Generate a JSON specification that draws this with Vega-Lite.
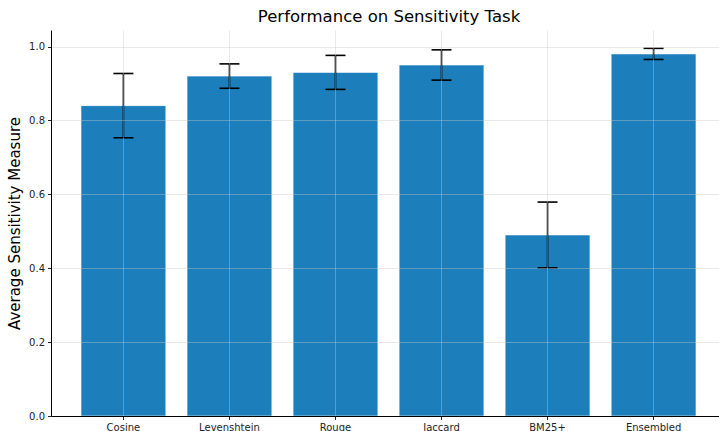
{
  "$schema": "https://vega.github.io/schema/vega-lite/v6.json",
  "autosize": "none",
  "width": 668,
  "height": 386,
  "padding": {"left": 51, "top": 30, "right": 0, "bottom": 15},
  "background": "white",
  "config": {
    "font": "DejaVu Sans",
    "view": {"stroke": null}
  },
  "title": {"text": "Performance on Sensitivity Task", "fontSize": 16.5, "fontWeight": "normal", "font": "DejaVu Sans", "color": "#000000", "offset": 5, "dx": 4},
  "data": {
    "values": [
      {"method": "Cosine", "score": 0.84, "err": 0.087},
      {"method": "Levenshtein", "score": 0.92, "err": 0.033},
      {"method": "Rouge", "score": 0.93, "err": 0.046},
      {"method": "Jaccard", "score": 0.95, "err": 0.041},
      {"method": "BM25+", "score": 0.49, "err": 0.089},
      {"method": "Ensembled", "score": 0.98, "err": 0.015}
    ]
  },
  "transform": [
    {"calculate": "datum.score - datum.err", "as": "lo"},
    {"calculate": "datum.score + datum.err", "as": "hi"}
  ],
  "encoding": {
    "x": {
      "field": "method", "type": "nominal", "sort": null,
      "scale": {"paddingInner": 0.2, "paddingOuter": 0.25, "align": 0.566},
      "axis": {
        "title": null, "labelAngle": 0, "labelFontSize": 10, "labelColor": "#222",
        "domainColor": "#000", "domainWidth": 1, "tickColor": "#222", "tickSize": 3.5,
        "labelPadding": 3,
        "grid": true, "gridColor": "#c8c8c8", "gridOpacity": 0.4, "gridWidth": 1, "zindex": 1
      }
    }
  },
  "layer": [
    {
      "mark": {"type": "bar", "color": "#1c7fbb", "stroke": "#ffffff", "strokeOpacity": 0.6, "strokeWidth": 1},
      "encoding": {
        "y": {
          "field": "score", "type": "quantitative",
          "scale": {"domain": [0, 1.0447], "nice": false, "zero": true},
          "axis": {
            "title": "Average Sensitivity Measure", "titleFontSize": 15, "titleFontWeight": "normal", "titleColor": "#000",
            "titlePadding": 6,
            "values": [0, 0.2, 0.4, 0.6, 0.8, 1.0], "format": ".1f",
            "labelFontSize": 10, "labelColor": "#222", "labelPadding": 3,
            "domainColor": "#000", "domainWidth": 1, "tickColor": "#222", "tickSize": 3.5,
            "grid": true, "gridColor": "#c8c8c8", "gridOpacity": 0.4, "gridWidth": 1, "zindex": 1
          }
        }
      }
    },
    {
      "mark": {"type": "rule", "color": "#000", "strokeWidth": 1.6, "opacity": 1},
      "encoding": {
        "y": {"field": "lo", "type": "quantitative"},
        "y2": {"field": "hi"}
      }
    },
    {
      "mark": {"type": "tick", "color": "#000", "thickness": 1.6, "size": 20, "orient": "horizontal", "opacity": 1},
      "encoding": {"y": {"field": "lo", "type": "quantitative"}}
    },
    {
      "mark": {"type": "tick", "color": "#000", "thickness": 1.6, "size": 20, "orient": "horizontal", "opacity": 1},
      "encoding": {"y": {"field": "hi", "type": "quantitative"}}
    }
  ]
}
